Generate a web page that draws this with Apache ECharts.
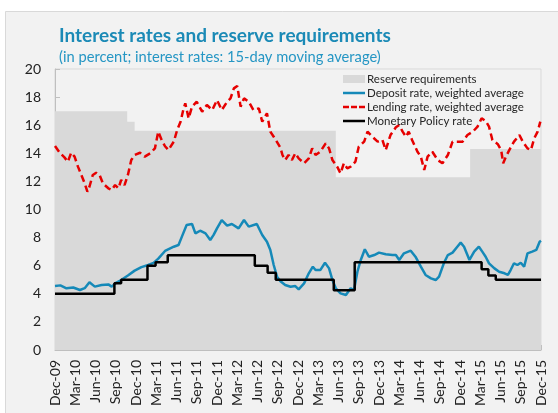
<!DOCTYPE html>
<html>
<head>
<meta charset="utf-8">
<script src="https://cdn.jsdelivr.net/npm/echarts@6/dist/echarts.min.js"></script>
<style>
  html, body { margin: 0; padding: 0; background: #fff; }
  #chart { width: 558px; height: 413px; }
</style>
</head>
<body>
<div id="chart"></div>
<script>
// x = months since Dec-09
const tickLabels = ['Dec-09', 'Mar-10', 'Jun-10', 'Sep-10', 'Dec-10', 'Mar-11', 'Jun-11', 'Sep-11', 'Dec-11',
  'Mar-12', 'Jun-12', 'Sep-12', 'Dec-12', 'Mar-13', 'Jun-13', 'Sep-13', 'Dec-13', 'Mar-14', 'Jun-14',
  'Sep-14', 'Dec-14', 'Mar-15', 'Jun-15', 'Sep-15', 'Dec-15'];

// step values, each holds until the next point
const reserveReq = [[0, 17], [10.7, 16.25], [11.8, 15.6], [41.6, 12.3], [61.5, 14.3], [72, 14.3]];

const policyRate = [[0, 4], [8.8, 4.75], [9.8, 5], [13.7, 6], [14.9, 6.25], [16.7, 6.75], [29.6, 6],
  [31.5, 5.5], [32.7, 5], [41.3, 4.25], [44.4, 6.25], [63.2, 5.75], [64.2, 5.3], [65.3, 5], [72, 5]];

const depositRate = [[0, 4.56], [0.8, 4.6], [1.7, 4.39], [2.7, 4.45], [3.7, 4.27], [4.4, 4.4], [5.1, 4.82],
  [5.9, 4.51], [6.9, 4.62], [7.9, 4.67], [8.4, 4.51], [9.1, 4.8], [9.8, 4.98], [10.8, 5.3], [11.8, 5.65],
  [12.8, 5.9], [13.8, 6.05], [14.6, 6.2], [15.3, 6.5], [16.3, 7.05], [17.6, 7.35], [18.3, 7.47],
  [18.8, 8.07], [19.5, 8.9], [20.3, 8.97], [20.8, 8.3], [21.5, 8.49], [22.3, 8.3], [23.0, 7.83],
  [23.5, 8.19], [24.0, 8.66], [24.7, 9.25], [25.5, 8.85], [26.2, 8.97], [27.2, 8.66], [28.0, 9.25],
  [28.7, 8.78], [29.9, 8.97], [30.7, 8.19], [31.4, 7.71], [31.9, 7.12], [32.4, 6.05], [32.9, 5.22],
  [33.4, 4.9], [34.1, 4.63], [34.9, 4.5], [35.6, 4.55], [36.1, 4.32], [36.9, 4.74], [37.6, 5.46],
  [38.2, 5.93], [38.6, 5.69], [39.3, 5.69], [40.0, 6.21], [40.6, 5.81], [41.1, 4.98], [41.6, 4.39],
  [42.3, 4.03], [43.1, 3.91], [43.8, 4.39], [44.3, 4.27], [44.8, 5.57], [45.3, 6.41], [45.9, 7.17],
  [46.5, 6.64], [47.3, 6.76], [48.0, 6.93], [49.0, 6.81], [50.0, 6.76], [50.5, 6.76], [51.0, 6.41],
  [51.7, 6.88], [52.7, 7.07], [53.4, 6.64], [54.2, 5.93], [54.9, 5.34], [55.7, 5.1], [56.4, 4.98],
  [56.9, 5.22], [57.6, 6.17], [58.2, 6.76], [58.9, 6.93], [59.6, 7.35], [60.1, 7.64], [60.6, 7.35],
  [61.4, 6.41], [62.1, 7.0], [62.8, 7.35], [63.3, 7.0], [63.8, 6.64], [64.3, 6.17], [65.1, 5.81],
  [65.8, 5.57], [66.6, 5.46], [67.1, 5.34], [67.5, 5.69], [68.0, 6.17], [68.5, 6.05], [69.0, 6.21],
  [69.5, 5.93], [70.0, 6.88], [70.7, 7.0], [71.3, 7.12], [71.8, 7.71], [72, 7.78]];

const lendingRate = [[0, 14.52], [0.7, 14.04], [1.4, 13.71], [1.9, 13.4], [2.4, 14.04], [2.9, 13.76],
  [3.4, 13.05], [3.9, 12.46], [4.4, 11.86], [4.8, 11.27], [5.1, 11.62], [5.6, 12.46], [6.1, 12.62],
  [6.6, 12.46], [7.1, 11.86], [7.9, 11.51], [8.4, 11.39], [8.9, 11.74], [9.4, 11.51], [9.8, 12.1],
  [10.3, 11.74], [10.8, 12.46], [11.3, 13.52], [11.8, 13.88], [12.6, 14.04], [13.3, 13.76], [14.1, 14.0],
  [14.8, 14.35], [15.3, 15.54], [15.8, 14.95], [16.3, 14.5], [16.8, 14.23], [17.6, 14.83], [18.1, 15.66],
  [18.6, 16.25], [19.0, 17.08], [19.3, 17.56], [19.8, 16.49], [20.3, 17.32], [21.0, 17.67], [21.8, 16.96],
  [22.5, 17.44], [23.3, 17.08], [24.0, 17.79], [24.7, 17.08], [25.5, 17.67], [26.0, 17.91], [26.5, 18.62],
  [27.0, 18.79], [27.5, 17.32], [28.0, 17.91], [28.7, 17.67], [29.4, 17.08], [30.2, 17.2], [30.7, 16.25],
  [31.4, 16.85], [31.9, 15.54], [32.4, 15.18], [32.9, 14.8], [33.4, 14.4], [33.7, 13.88], [34.1, 13.52],
  [34.6, 13.88], [35.1, 13.52], [35.6, 14.0], [36.1, 13.64], [36.9, 13.29], [37.6, 13.64], [38.1, 14.35],
  [38.6, 13.88], [39.3, 14.11], [40.1, 14.71], [40.6, 14.35], [41.1, 13.52], [41.8, 13.05], [42.3, 12.57],
  [42.8, 13.29], [43.3, 12.93], [43.8, 13.05], [44.5, 13.4], [45.0, 14.47], [45.8, 14.83], [46.3, 15.54],
  [47.0, 15.18], [47.8, 14.83], [48.5, 14.95], [49.0, 14.23], [49.7, 15.3], [50.5, 15.85], [51.0, 16.01],
  [51.5, 15.54], [52.0, 15.18], [52.4, 15.54], [52.9, 14.95], [53.7, 14.11], [54.2, 13.76], [54.7, 12.81],
  [55.2, 13.76], [55.9, 14.11], [56.7, 13.52], [57.4, 13.29], [58.2, 13.88], [58.9, 14.83], [59.6, 14.83],
  [60.4, 14.83], [61.1, 15.3], [61.9, 15.54], [62.6, 15.9], [63.2, 16.49], [63.8, 16.3], [64.3, 15.9],
  [64.8, 14.95], [65.6, 14.65], [66.1, 14.23], [66.4, 13.29], [66.8, 13.76], [67.3, 14.23], [68.0, 14.83],
  [68.8, 15.3], [69.3, 14.83], [70.0, 14.35], [70.5, 14.23], [71.0, 15.07], [71.5, 15.54], [71.9, 16.25]];

const font = 'Lato, "Open Sans", sans-serif';
const solidIcon = 'path://M0,0H22V2.5H0Z';
const dashIcon = 'path://M0,0H6V2.5H0Z M8,0H14V2.5H8Z M16,0H22V2.5H16Z';

const chart = echarts.init(document.getElementById('chart'));

chart.setOption({
  animation: false,
  textStyle: { fontFamily: font },
  graphic: [
    {
      type: 'rect', z: -10, silent: true,
      shape: { x: 5.5, y: 11.5, width: 560, height: 410 },
      style: { fill: '#f2f2f2', stroke: '#d9d9d9', lineWidth: 1 },
    },
  ],
  title: {
    text: 'Interest rates and reserve requirements',
    subtext: '(in percent; interest rates: 15-day moving average)',
    left: 54, top: 21, itemGap: 5,
    textStyle: { fontFamily: font, fontSize: 19, fontWeight: 'bold', color: '#1b8ab6' },
    subtextStyle: { fontFamily: font, fontSize: 14.7, color: '#2596c4' },
  },
  legend: {
    orient: 'vertical', left: 338, top: 67, itemGap: 0,
    itemWidth: 22, itemHeight: 8,
    textStyle: { fontFamily: font, fontSize: 11.5, color: '#262626', lineHeight: 14, padding: [0, 0, 0, -3] },
    data: [
      { name: 'Reserve requirements', icon: 'rect' },
      { name: 'Deposit rate, weighted average', icon: solidIcon },
      { name: 'Lending rate, weighted average', icon: dashIcon },
      { name: 'Monetary Policy rate', icon: solidIcon },
    ],
  },
  grid: { left: 55, top: 69, right: 17, bottom: 63, show: true, borderColor: '#d9d9d9', borderWidth: 1 },
  xAxis: {
    type: 'value', min: 0, max: 72, interval: 3,
    axisLine: { onZero: false, lineStyle: { color: '#bfbfbf' } },
    axisTick: { inside: true, length: 5, lineStyle: { color: '#bfbfbf' } },
    splitLine: { show: false },
    axisLabel: {
      rotate: 90, fontSize: 14, color: '#222', margin: 10,
      formatter: (v) => tickLabels[Math.round(v / 3)] || '',
    },
  },
  yAxis: {
    type: 'value', min: 0, max: 20, interval: 2,
    axisLine: { show: true, lineStyle: { color: '#bfbfbf' } },
    axisTick: { show: true, inside: true, length: 5, lineStyle: { color: '#bfbfbf' } },
    splitLine: { show: false },
    axisLabel: { fontSize: 14, color: '#222', margin: 14 },
  },
  series: [
    {
      name: 'Reserve requirements', type: 'line', step: 'end', data: reserveReq,
      symbol: 'none', lineStyle: { width: 0 }, itemStyle: { color: '#d9d9d9' },
      areaStyle: { color: '#d9d9d9', opacity: 1 }, z: 1,
    },
    {
      name: 'Lending rate, weighted average', type: 'line', data: lendingRate, symbol: 'none',
      itemStyle: { color: '#e60000' }, lineStyle: { color: '#e60000', width: 2.5, type: [7, 4] }, z: 2,
    },
    {
      name: 'Deposit rate, weighted average', type: 'line', data: depositRate, symbol: 'none',
      itemStyle: { color: '#1589b8' }, lineStyle: { color: '#1589b8', width: 2.5 }, z: 3,
    },
    {
      name: 'Monetary Policy rate', type: 'line', step: 'end', data: policyRate, symbol: 'none',
      itemStyle: { color: '#000' }, lineStyle: { color: '#000', width: 2.5 }, z: 4,
    },
  ],
});
</script>
</body>
</html>
